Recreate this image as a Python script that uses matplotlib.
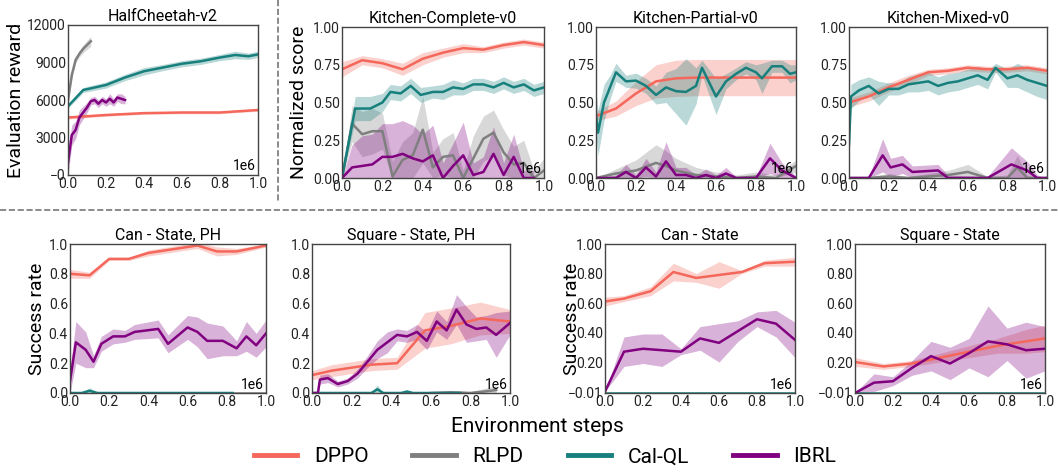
import numpy as np
import matplotlib
matplotlib.use("Agg")
import matplotlib.pyplot as plt
from matplotlib.lines import Line2D

plt.rcParams['font.family'] = ['Roboto', 'DejaVu Sans']

W, H = 1058, 474
C_DPPO, C_RLPD, C_CALQL, C_IBRL = '#f4675a', '#7f7f7f', '#17807c', '#800080'

# ---------------- data (x in units of 1e6 env steps) ----------------
# HalfCheetah-v2
hc_dppo_x = [0.0, 0.2, 0.4, 0.6, 0.8, 1.0]
hc_dppo_y = [4600, 4800, 4950, 5000, 5000, 5200]
hc_dppo_s = [120, 100, 100, 100, 100, 100]
hc_rlpd_x = [0.0, 0.02, 0.04, 0.06, 0.08, 0.1, 0.12]
hc_rlpd_y = [6000, 8000, 9200, 9700, 10100, 10400, 10700]
hc_rlpd_s = [300, 300, 250, 250, 300, 350, 400]
hc_calql_x = [0.0, 0.08, 0.2, 0.3, 0.4, 0.5, 0.6, 0.7, 0.8, 0.88, 0.95, 1.0]
hc_calql_y = [5500, 6800, 7200, 7800, 8300, 8600, 8900, 9100, 9400, 9600, 9500, 9650]
hc_calql_s = [150, 200, 250, 250, 300, 250, 250, 250, 250, 300, 250, 250]
hc_ibrl_x = [0.0, 0.02, 0.04, 0.06, 0.08, 0.1, 0.12, 0.14, 0.16, 0.18, 0.2, 0.22, 0.24, 0.26, 0.28, 0.3]
hc_ibrl_y = [1000, 3200, 3600, 4600, 5000, 5400, 5900, 6000, 5700, 6000, 5800, 6100, 5800, 6200, 6100, 6000]
hc_ibrl_s = [1000, 800, 700, 600, 500, 400, 300, 300, 300, 300, 300, 400, 300, 300, 400, 300]

# Kitchen-Complete-v0
kc_dppo_x = [0.0, 0.1, 0.2, 0.3, 0.4, 0.5, 0.6, 0.7, 0.8, 0.9, 1.0]
kc_dppo_y = [0.72, 0.78, 0.76, 0.72, 0.79, 0.83, 0.86, 0.85, 0.88, 0.90, 0.88]
kc_dppo_s = [0.05, 0.03, 0.03, 0.04, 0.04, 0.03, 0.03, 0.02, 0.02, 0.02, 0.02]
kc_calql_x = [0.0, 0.065, 0.14, 0.2, 0.24, 0.29, 0.34, 0.39, 0.45, 0.5, 0.55, 0.6, 0.65, 0.7, 0.75, 0.8, 0.85, 0.9, 0.95, 1.0]
kc_calql_y = [0.0, 0.46, 0.46, 0.50, 0.57, 0.56, 0.61, 0.55, 0.57, 0.57, 0.60, 0.59, 0.62, 0.62, 0.60, 0.63, 0.60, 0.62, 0.58, 0.60]
kc_calql_s = [0.0, 0.08, 0.08, 0.06, 0.05, 0.05, 0.05, 0.05, 0.04, 0.05, 0.05, 0.04, 0.04, 0.04, 0.04, 0.04, 0.04, 0.04, 0.04, 0.04]
kc_rlpd_x = [0.0, 0.05, 0.1, 0.15, 0.2, 0.25, 0.3, 0.35, 0.4, 0.45, 0.5, 0.55, 0.6, 0.65, 0.7, 0.75, 0.8, 0.85, 0.9, 0.95, 1.0]
kc_rlpd_y = [0.0, 0.36, 0.29, 0.31, 0.31, 0.01, 0.12, 0.15, 0.32, 0.07, 0.14, 0.15, 0.0, 0.13, 0.26, 0.30, 0.17, 0.09, 0.10, 0.0, 0.05]
kc_rlpd_s = [0.0, 0.12, 0.15, 0.15, 0.12, 0.10, 0.12, 0.15, 0.22, 0.10, 0.12, 0.15, 0.05, 0.15, 0.15, 0.15, 0.15, 0.12, 0.15, 0.05, 0.08]
kc_ibrl_x = [0.0, 0.05, 0.1, 0.15, 0.2, 0.25, 0.3, 0.35, 0.4, 0.45, 0.5, 0.55, 0.6, 0.65, 0.7, 0.75, 0.8, 0.85, 0.9, 0.95]
kc_ibrl_y = [0.0, 0.07, 0.08, 0.09, 0.14, 0.14, 0.16, 0.13, 0.11, 0.15, 0.0, 0.08, 0.15, 0.02, 0.04, 0.16, 0.02, 0.14, 0.0, 0.0]
kc_ibrl_s = [0.0, 0.15, 0.20, 0.20, 0.22, 0.22, 0.22, 0.22, 0.18, 0.20, 0.10, 0.15, 0.22, 0.08, 0.10, 0.18, 0.08, 0.15, 0.05, 0.05]

# Kitchen-Partial-v0
kp_dppo_x = [0.0, 0.1, 0.2, 0.3, 0.4, 0.5, 0.6, 0.7, 0.8, 0.9, 1.0]
kp_dppo_y = [0.41, 0.46, 0.56, 0.64, 0.66, 0.665, 0.665, 0.665, 0.665, 0.665, 0.665]
kp_dppo_s = [0.03, 0.05, 0.08, 0.11, 0.12, 0.12, 0.12, 0.12, 0.12, 0.12, 0.12]
kp_calql_x = [0.0, 0.01, 0.04, 0.07, 0.1, 0.15, 0.2, 0.25, 0.3, 0.35, 0.4, 0.45, 0.5, 0.53, 0.6, 0.65, 0.7, 0.75, 0.8, 0.83, 0.88, 0.93, 0.97, 1.0]
kp_calql_y = [0.42, 0.30, 0.50, 0.60, 0.70, 0.64, 0.645, 0.61, 0.55, 0.60, 0.575, 0.57, 0.61, 0.73, 0.54, 0.64, 0.69, 0.73, 0.70, 0.66, 0.74, 0.74, 0.69, 0.70]
kp_calql_s = [0.15, 0.15, 0.12, 0.08, 0.06, 0.04, 0.05, 0.05, 0.06, 0.10, 0.15, 0.22, 0.12, 0.05, 0.12, 0.05, 0.04, 0.04, 0.05, 0.10, 0.04, 0.04, 0.06, 0.05]
kp_rlpd_x = [0.0, 0.1, 0.2, 0.3, 0.35, 0.4, 0.5, 0.6, 0.7, 0.8, 0.9, 1.0]
kp_rlpd_y = [0.0, 0.03, 0.05, 0.10, 0.08, 0.05, 0.02, 0.01, 0.0, 0.01, 0.0, 0.08]
kp_rlpd_s = [0.0, 0.03, 0.07, 0.12, 0.10, 0.08, 0.05, 0.03, 0.02, 0.03, 0.02, 0.04]
kp_ibrl_x = [0.0, 0.1, 0.15, 0.2, 0.25, 0.3, 0.35, 0.4, 0.45, 0.5, 0.55, 0.6, 0.65, 0.7, 0.8, 0.87, 0.93, 1.0]
kp_ibrl_y = [0.0, 0.0, 0.04, 0.0, 0.07, 0.01, 0.11, 0.02, 0.02, 0.0, 0.02, 0.0, 0.03, 0.0, 0.0, 0.13, 0.05, 0.0]
kp_ibrl_s = [0.0, 0.02, 0.05, 0.02, 0.06, 0.03, 0.13, 0.05, 0.05, 0.02, 0.04, 0.02, 0.04, 0.01, 0.01, 0.10, 0.05, 0.01]

# Kitchen-Mixed-v0
km_dppo_x = [0.0, 0.1, 0.2, 0.3, 0.4, 0.5, 0.6, 0.7, 0.8, 0.9, 1.0]
km_dppo_y = [0.50, 0.54, 0.60, 0.65, 0.70, 0.71, 0.73, 0.72, 0.72, 0.73, 0.71]
km_dppo_s = [0.03, 0.03, 0.03, 0.03, 0.02, 0.02, 0.02, 0.02, 0.02, 0.02, 0.02]
km_calql_x = [0.0, 0.01, 0.05, 0.1, 0.15, 0.2, 0.25, 0.3, 0.35, 0.4, 0.45, 0.5, 0.55, 0.6, 0.65, 0.7, 0.74, 0.8, 0.85, 0.9, 0.95, 1.0]
km_calql_y = [0.22, 0.54, 0.58, 0.61, 0.56, 0.59, 0.59, 0.62, 0.63, 0.64, 0.61, 0.63, 0.64, 0.66, 0.68, 0.65, 0.73, 0.66, 0.68, 0.65, 0.63, 0.61]
km_calql_s = [0.10, 0.08, 0.07, 0.06, 0.08, 0.04, 0.04, 0.05, 0.06, 0.06, 0.06, 0.06, 0.06, 0.06, 0.06, 0.06, 0.03, 0.06, 0.08, 0.08, 0.09, 0.09]
km_rlpd_x = [0.0, 0.1, 0.2, 0.3, 0.4, 0.5, 0.6, 0.7, 0.8, 0.85, 0.9, 1.0]
km_rlpd_y = [0.0, 0.0, 0.01, 0.0, 0.01, 0.02, 0.04, 0.0, 0.0, 0.07, 0.0, 0.0]
km_rlpd_s = [0.0, 0.01, 0.02, 0.01, 0.02, 0.03, 0.05, 0.01, 0.02, 0.08, 0.02, 0.0]
km_ibrl_x = [0.0, 0.1, 0.17, 0.21, 0.27, 0.32, 0.45, 0.5, 0.7, 0.82, 0.9, 0.95, 1.0]
km_ibrl_y = [0.0, 0.0, 0.15, 0.07, 0.09, 0.04, 0.05, 0.0, 0.0, 0.09, 0.05, 0.0, 0.0]
km_ibrl_s = [0.0, 0.01, 0.11, 0.06, 0.06, 0.04, 0.04, 0.02, 0.01, 0.11, 0.06, 0.02, 0.0]

# Can - State, PH
cp_dppo_x = [0.0, 0.1, 0.2, 0.3, 0.4, 0.5, 0.65, 0.75, 0.85, 1.0]
cp_dppo_y = [0.80, 0.79, 0.90, 0.90, 0.94, 0.96, 0.99, 0.95, 0.95, 0.99]
cp_dppo_s = [0.03, 0.02, 0.01, 0.01, 0.02, 0.02, 0.02, 0.03, 0.02, 0.01]
cp_ibrl_x = [0.0, 0.03, 0.08, 0.12, 0.16, 0.22, 0.28, 0.33, 0.45, 0.5, 0.6, 0.65, 0.7, 0.78, 0.85, 0.9, 0.95, 1.0]
cp_ibrl_y = [0.08, 0.34, 0.29, 0.21, 0.33, 0.38, 0.38, 0.41, 0.43, 0.33, 0.44, 0.41, 0.35, 0.35, 0.30, 0.38, 0.32, 0.40]
cp_ibrl_s = [0.08, 0.14, 0.12, 0.04, 0.05, 0.05, 0.04, 0.05, 0.06, 0.06, 0.08, 0.10, 0.12, 0.10, 0.05, 0.10, 0.08, 0.09]
cp_calql_x = [0.0, 0.06, 0.1, 0.14, 0.83]
cp_calql_y = [0.0, 0.0, 0.015, 0.0, 0.0]
cp_calql_s = [0.0, 0.005, 0.02, 0.005, 0.0]
cp_rlpd_x = [0.83, 1.0]
cp_rlpd_y = [0.0, 0.0]
cp_rlpd_s = [0.0, 0.0]

# Square - State, PH
sp_dppo_x = [0.0, 0.1, 0.2, 0.3, 0.43, 0.57, 0.7, 0.85, 1.0]
sp_dppo_y = [0.12, 0.15, 0.17, 0.19, 0.20, 0.42, 0.45, 0.50, 0.48]
sp_dppo_s = [0.03, 0.04, 0.04, 0.04, 0.04, 0.12, 0.12, 0.11, 0.08]
sp_ibrl_x = [0.0, 0.03, 0.04, 0.08, 0.13, 0.18, 0.23, 0.28, 0.33, 0.38, 0.43, 0.48, 0.53, 0.58, 0.63, 0.68, 0.73, 0.78, 0.83, 0.88, 0.93, 1.0]
sp_ibrl_y = [0.0, 0.0, 0.09, 0.10, 0.06, 0.08, 0.13, 0.21, 0.29, 0.34, 0.39, 0.38, 0.41, 0.35, 0.48, 0.42, 0.56, 0.46, 0.43, 0.44, 0.39, 0.47]
sp_ibrl_s = [0.0, 0.0, 0.03, 0.03, 0.02, 0.02, 0.03, 0.04, 0.06, 0.07, 0.04, 0.04, 0.05, 0.06, 0.07, 0.06, 0.10, 0.12, 0.08, 0.08, 0.15, 0.08]
sp_calql_x = [0.0, 0.3, 0.33, 0.36, 0.45, 0.48, 0.51, 0.75]
sp_calql_y = [0.0, 0.0, 0.025, 0.0, 0.0, 0.01, 0.0, 0.0]
sp_calql_s = [0.0, 0.0, 0.03, 0.0, 0.0, 0.005, 0.0, 0.0]
sp_rlpd_x = [0.6, 0.7, 0.8, 0.87, 0.93]
sp_rlpd_y = [0.0, 0.005, 0.0, 0.01, 0.02]
sp_rlpd_s = [0.0, 0.01, 0.01, 0.02, 0.03]

# Can - State
cs_dppo_x = [0.0, 0.1, 0.24, 0.36, 0.48, 0.6, 0.72, 0.84, 1.0]
cs_dppo_y = [0.61, 0.63, 0.68, 0.81, 0.77, 0.79, 0.81, 0.87, 0.88]
cs_dppo_s = [0.03, 0.02, 0.03, 0.06, 0.03, 0.09, 0.01, 0.02, 0.03]
cs_ibrl_x = [0.0, 0.1, 0.2, 0.3, 0.4, 0.5, 0.6, 0.7, 0.8, 0.9, 1.0]
cs_ibrl_y = [0.0, 0.27, 0.29, 0.28, 0.27, 0.36, 0.33, 0.41, 0.49, 0.46, 0.35]
cs_ibrl_s = [0.0, 0.10, 0.10, 0.11, 0.02, 0.08, 0.13, 0.07, 0.05, 0.09, 0.12]
cs_calql_x = [0.0, 1.0]
cs_calql_y = [-0.01, -0.01]
cs_calql_s = [0.0, 0.0]

# Square - State
ss_dppo_x = [0.0, 0.15, 0.3, 0.45, 0.6, 0.75, 0.9, 1.0]
ss_dppo_y = [0.20, 0.17, 0.19, 0.23, 0.27, 0.31, 0.34, 0.36]
ss_dppo_s = [0.03, 0.02, 0.02, 0.03, 0.04, 0.05, 0.08, 0.09]
ss_ibrl_x = [0.0, 0.1, 0.2, 0.3, 0.4, 0.5, 0.6, 0.7, 0.8, 0.9, 1.0]
ss_ibrl_y = [-0.01, 0.06, 0.07, 0.16, 0.24, 0.19, 0.26, 0.34, 0.32, 0.28, 0.29]
ss_ibrl_s = [0.0, 0.06, 0.03, 0.05, 0.10, 0.11, 0.10, 0.24, 0.11, 0.19, 0.15]
ss_calql_x = [0.0, 1.0]
ss_calql_y = [-0.01, -0.01]
ss_calql_s = [0.0, 0.0]

panels = [
    # title, pixel box (l, r, t, b), ylim, yticks, yticklabels, ylabel, ylabel x (axes coords), series
    ("HalfCheetah-v2", (68, 258, 25, 175), (0, 12000), [0, 3000, 6000, 9000, 12000],
     ['\u22120', '3000', '6000', '9000', '12000'], "Evaluation reward", -0.225,
     [(hc_dppo_x, hc_dppo_y, hc_dppo_s, C_DPPO), (hc_rlpd_x, hc_rlpd_y, hc_rlpd_s, C_RLPD),
      (hc_calql_x, hc_calql_y, hc_calql_s, C_CALQL), (hc_ibrl_x, hc_ibrl_y, hc_ibrl_s, C_IBRL)]),
    ("Kitchen-Complete-v0", (342, 544, 27, 178), (0, 1), [0, 0.25, 0.5, 0.75, 1.0],
     ['0.00', '0.25', '0.50', '0.75', '1.00'], "Normalized score", -0.168,
     [(kc_dppo_x, kc_dppo_y, kc_dppo_s, C_DPPO), (kc_rlpd_x, kc_rlpd_y, kc_rlpd_s, C_RLPD),
      (kc_calql_x, kc_calql_y, kc_calql_s, C_CALQL), (kc_ibrl_x, kc_ibrl_y, kc_ibrl_s, C_IBRL)]),
    ("Kitchen-Partial-v0", (596, 796, 27, 178), (0, 1), [0, 0.25, 0.5, 0.75, 1.0],
     ['0.00', '0.25', '0.50', '0.75', '1.00'], None, None,
     [(kp_dppo_x, kp_dppo_y, kp_dppo_s, C_DPPO), (kp_rlpd_x, kp_rlpd_y, kp_rlpd_s, C_RLPD),
      (kp_calql_x, kp_calql_y, kp_calql_s, C_CALQL), (kp_ibrl_x, kp_ibrl_y, kp_ibrl_s, C_IBRL)]),
    ("Kitchen-Mixed-v0", (849, 1047, 27, 178), (0, 1), [0, 0.25, 0.5, 0.75, 1.0],
     ['0.00', '0.25', '0.50', '0.75', '1.00'], None, None,
     [(km_dppo_x, km_dppo_y, km_dppo_s, C_DPPO), (km_rlpd_x, km_rlpd_y, km_rlpd_s, C_RLPD),
      (km_calql_x, km_calql_y, km_calql_s, C_CALQL), (km_ibrl_x, km_ibrl_y, km_ibrl_s, C_IBRL)]),
    ("Can - State, PH", (70, 266, 244, 393), (0, 1), [0, 0.2, 0.4, 0.6, 0.8, 1.0],
     ['0.0', '0.2', '0.4', '0.6', '0.8', '1.0'], "Success rate", -0.12,
     [(cp_dppo_x, cp_dppo_y, cp_dppo_s, C_DPPO), (cp_rlpd_x, cp_rlpd_y, cp_rlpd_s, C_RLPD),
      (cp_calql_x, cp_calql_y, cp_calql_s, C_CALQL), (cp_ibrl_x, cp_ibrl_y, cp_ibrl_s, C_IBRL)]),
    ("Square - State, PH", (312, 510, 244, 393), (0, 1), [0, 0.2, 0.4, 0.6, 0.8, 1.0],
     ['0.0', '0.2', '0.4', '0.6', '0.8', '1.0'], None, None,
     [(sp_dppo_x, sp_dppo_y, sp_dppo_s, C_DPPO), (sp_rlpd_x, sp_rlpd_y, sp_rlpd_s, C_RLPD),
      (sp_calql_x, sp_calql_y, sp_calql_s, C_CALQL), (sp_ibrl_x, sp_ibrl_y, sp_ibrl_s, C_IBRL)]),
    ("Can - State", (605, 795, 244, 393), (-0.01, 1), [-0.01, 0.2, 0.4, 0.6, 0.8, 1.0],
     ['\u22120.01', '0.20', '0.40', '0.60', '0.80', '1.00'], "Success rate", -0.128,
     [(cs_dppo_x, cs_dppo_y, cs_dppo_s, C_DPPO),
      (cs_calql_x, cs_calql_y, cs_calql_s, C_CALQL), (cs_ibrl_x, cs_ibrl_y, cs_ibrl_s, C_IBRL)]),
    ("Square - State", (855, 1045, 244, 393), (-0.01, 1), [-0.01, 0.2, 0.4, 0.6, 0.8, 1.0],
     ['\u22120.01', '0.20', '0.40', '0.60', '0.80', '1.00'], None, None,
     [(ss_dppo_x, ss_dppo_y, ss_dppo_s, C_DPPO),
      (ss_calql_x, ss_calql_y, ss_calql_s, C_CALQL), (ss_ibrl_x, ss_ibrl_y, ss_ibrl_s, C_IBRL)]),
]

fig = plt.figure(figsize=(W / 100, H / 100), dpi=100)

for title, (l, r, t, b), ylim, yt, ytl, ylab, labx, series in panels:
    ax = fig.add_axes([l / W, 1 - b / H, (r - l) / W, (b - t) / H])
    for x, y, s, c in series:
        x = np.array(x); y = np.array(y); s = np.array(s)
        lo = np.maximum(y - s, ylim[0]); hi = y + s
        ax.fill_between(x, lo, hi, color=c, alpha=0.3, lw=0)
        ax.plot(x, y, color=c, lw=1.8)
    ax.set_xlim(0, 1)
    ax.set_ylim(*ylim)
    ax.set_xticks([0, 0.2, 0.4, 0.6, 0.8, 1.0])
    ax.set_xticklabels(['0.0', '0.2', '0.4', '0.6', '0.8', '1.0'])
    ax.set_yticks(yt)
    ax.set_yticklabels(ytl)
    ax.tick_params(length=0, pad=1.5, labelsize=10, colors='#222222')
    for sp in ax.spines.values():
        sp.set_color('#444444'); sp.set_linewidth(1.0)
    ax.set_title(title, fontsize=11.5, pad=3)
    if ylab:
        ax.set_ylabel(ylab, fontsize=14)
        ax.yaxis.set_label_coords(labx, 0.5)
    ax.text(0.99, 0.01, '1e6', transform=ax.transAxes, ha='right', va='bottom', fontsize=10)

# dashed separators
fig.add_artist(Line2D([278 / W, 278 / W], [1, 1 - 203 / H], transform=fig.transFigure,
                      color='#777777', lw=1.2, ls='--'))
fig.add_artist(Line2D([0, 1], [1 - 210 / H, 1 - 210 / H], transform=fig.transFigure,
                      color='#777777', lw=1.2, ls='--'))

fig.text(537 / W, 1 - 426 / H, "Environment steps", ha='center', va='center', fontsize=15)

handles = [Line2D([], [], color=c, lw=3.5) for c in (C_DPPO, C_RLPD, C_CALQL, C_IBRL)]
fig.legend(handles, ['DPPO', 'RLPD', 'Cal-QL', 'IBRL'], loc='center', ncol=4,
           bbox_to_anchor=(545 / W, 1 - 457 / H), frameon=False, fontsize=15,
           handlelength=2.1, columnspacing=2.1, handletextpad=0.8)

fig.savefig('out.png', dpi=100)
